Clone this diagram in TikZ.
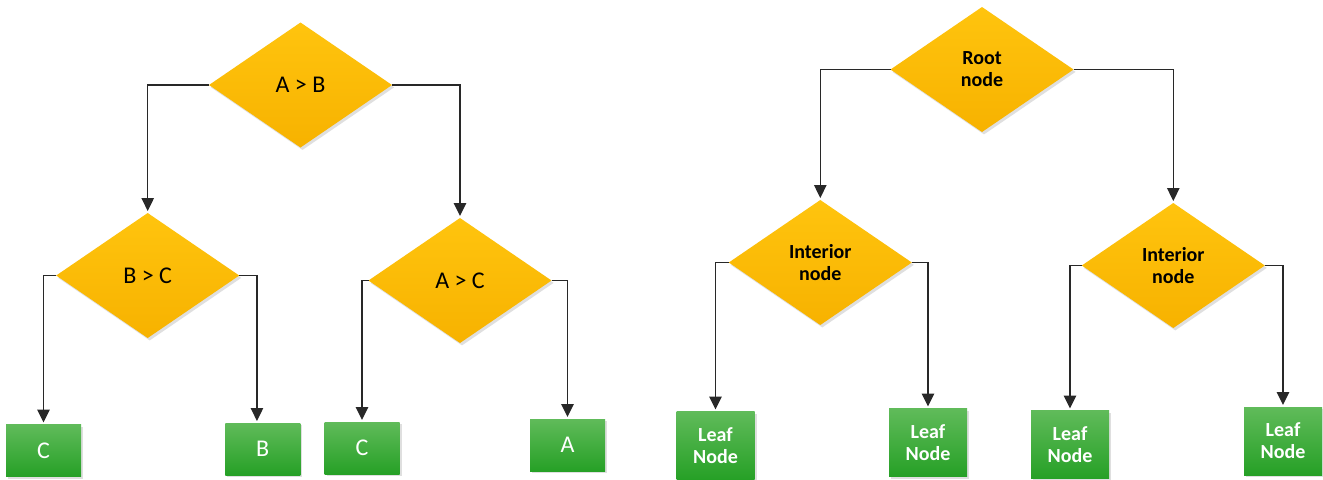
\documentclass[tikz,border=0pt]{standalone}
\usepackage{fontspec}
\setmainfont{Carlito}
\usetikzlibrary{shapes.geometric,arrows.meta,shadows}
\definecolor{mygold}{RGB}{255,196,14}
\definecolor{mydarkgold}{RGB}{247,178,0}
\definecolor{mylightgreen}{RGB}{96,187,90}
\definecolor{mydarkgreen}{RGB}{38,160,38}
\definecolor{myline}{RGB}{40,40,40}
\newcommand{\widthtest}{91.5pt}
\newcommand{\heighttest}{62.5pt}
\tikzset{
    common/.style={draw=none, outer sep=0pt, inner sep=0pt,
        drop shadow={shadow xshift=1pt, shadow yshift=-1.2pt, opacity=0.25}},
    test/.style={common, diamond, minimum width=\widthtest, minimum height=\heighttest,
        top color=mygold, bottom color=mydarkgold},
    leaf/.style={common, rectangle, top color=mylightgreen, bottom color=mydarkgreen, text=white},
    leafsmall/.style={leaf, minimum width=37.5pt, minimum height=26pt},
    leafbig/.style={leaf, minimum width=39pt, minimum height=34pt},
    plain/.style={font=\fontsize{12}{14}\selectfont},
    named/.style={font=\fontsize{10}{11}\selectfont\bfseries, align=center},
    branch/.style={draw=myline, line width=0.75pt, -{Triangle[length=6.5pt, width=6.2pt]}, shorten >=1pt}
}
\begin{document}
\begin{tikzpicture}[x=0.5pt, y=-0.5pt]
    \fill[white] (0,0) rectangle (1323,479);
    \useasboundingbox (0,0) rectangle (1323,479);

    % comparison tree
    \node[test, plain] (AB) at (300.5, 85) {A > B};
    \node[test, plain] (BC) at (147.7, 275.5) {B > C};
    \node[test, plain] (AC) at (460, 280.5) {A > C};
    \node[leafsmall, plain] (leftC) at (43.5, 450.5) {C};
    \node[leafsmall, plain] (leftB) at (262.75, 449) {B};
    \node[leafsmall, plain] (rightC) at (362, 448) {C};
    \node[leafsmall, plain] (rightA) at (567.5, 445) {A};

    \draw[branch] (AB.west) -| (BC.north);
    \draw[branch] (AB.east) -| (AC.north);
    \draw[branch] (BC.west) -| (leftC.north);
    \draw[branch] (BC.east) -| ([xshift=-2.9pt]leftB.north);
    \draw[branch] (AC.west) -| (rightC.north);
    \draw[branch] (AC.east) -| (rightA.north);

    % naming tree
    \node[test, named] (root) at (982, 69.5) {Root\\node};
    \node[test, named] (interiorL) at (820.3, 262.5) {Interior\\node};
    \node[test, named] (interiorR) at (1173.3, 265.5) {Interior\\node};
    \node[leafbig, named] (leafA) at (715.5, 445.5) {Leaf\\Node};
    \node[leafbig, named] (leafB) at (928, 442.5) {Leaf\\Node};
    \node[leafbig, named] (leafC) at (1070, 444.5) {Leaf\\Node};
    \node[leafbig, named] (leafD) at (1283, 441) {Leaf\\Node};

    \draw[branch] (root.west) -| (interiorL.north);
    \draw[branch] (root.east) -| (interiorR.north);
    \draw[branch] (interiorL.west) -| (leafA.north);
    \draw[branch] (interiorL.east) -| (leafB.north);
    \draw[branch] (interiorR.west) -| (leafC.north);
    \draw[branch] (interiorR.east) -| (leafD.north);
\end{tikzpicture}
\end{document}
